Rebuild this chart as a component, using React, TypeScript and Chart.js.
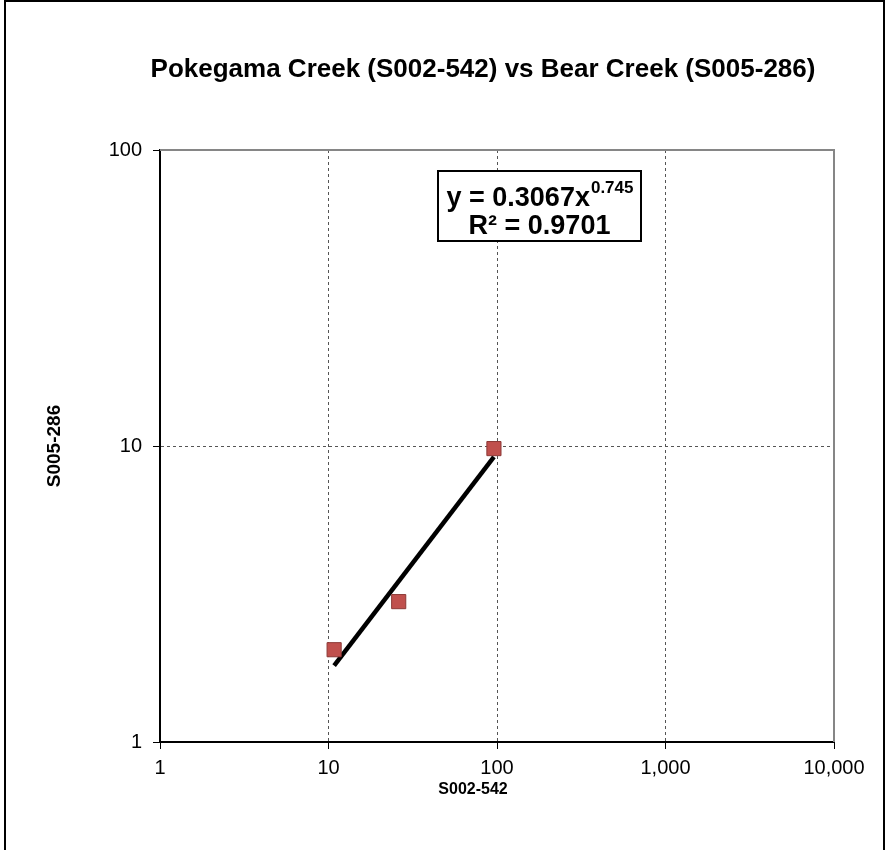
import React, { useEffect, useRef } from 'react';
import { Chart, registerables } from 'chart.js';

Chart.register(...registerables);

// ---- data ----
const xValues = [10.8, 26.1, 95.9];
const yValues = [2.05, 2.98, 9.8];
const trendX = [10.8, 95.9];
const trendY = [1.81, 9.19];
const xTicks = [1, 10, 100, 1000, 10000];
const yTicks = [1, 10, 100];
const chartTitle = 'Pokegama Creek (S002-542) vs Bear Creek (S005-286)';
const xTitle = 'S002-542';
const yTitle = 'S005-286';
const eqBase = 'y = 0.3067x';
const eqExp = '0.745';
const eqR2 = 'R² = 0.9701';

const FONT = '"Liberation Sans", Arial, sans-serif';

const decor = {
  id: 'decor',
  beforeDraw(chart: any) {
    const { ctx, width, height } = chart;
    ctx.save();
    ctx.fillStyle = '#fff';
    ctx.fillRect(0, 0, width, height);
    ctx.restore();
  },
  afterDraw(chart: any) {
    const { ctx, chartArea: a } = chart;
    ctx.save();
    // outer frame
    ctx.strokeStyle = '#000';
    ctx.lineWidth = 2;
    ctx.beginPath();
    ctx.moveTo(5, 850);
    ctx.lineTo(5, 1);
    ctx.lineTo(884, 1);
    ctx.lineTo(884, 850);
    ctx.stroke();
    // plot border top/right
    ctx.strokeStyle = '#868686';
    ctx.lineWidth = 2;
    ctx.beginPath();
    ctx.moveTo(a.left, a.top);
    ctx.lineTo(a.right, a.top);
    ctx.lineTo(a.right, a.bottom);
    ctx.stroke();
    // title
    ctx.fillStyle = '#000';
    ctx.textAlign = 'center';
    ctx.textBaseline = 'middle';
    ctx.font = 'bold 26px ' + FONT;
    ctx.fillText(chartTitle, 483, 70);
    // x title
    ctx.font = 'bold 16px ' + FONT;
    ctx.fillText(xTitle, a.left + 313, a.bottom + 48);
    // equation box
    const bx = a.left + 278;
    const by = a.top + 21;
    const bw = 203;
    const bh = 70;
    ctx.fillStyle = '#fff';
    ctx.fillRect(bx, by, bw, bh);
    ctx.strokeStyle = '#000';
    ctx.lineWidth = 2;
    ctx.strokeRect(bx, by, bw, bh);
    ctx.fillStyle = '#000';
    ctx.textBaseline = 'alphabetic';
    ctx.textAlign = 'left';
    const f1 = 'bold 27px ' + FONT;
    const f2 = 'bold 17px ' + FONT;
    ctx.font = f1;
    const w1 = ctx.measureText(eqBase).width;
    ctx.font = f2;
    const w2 = ctx.measureText(eqExp).width;
    const sx = bx + (bw - w1 - w2) / 2;
    ctx.font = f1;
    ctx.fillText(eqBase, sx, by + 35);
    ctx.font = f2;
    ctx.fillText(eqExp, sx + w1 + 1, by + 22);
    ctx.font = f1;
    ctx.textAlign = 'center';
    ctx.fillText(eqR2, bx + bw / 2, by + 63);
    ctx.restore();
  },
};

export default function App() {
  const ref = useRef<HTMLCanvasElement | null>(null);
  useEffect(() => {
    if (!ref.current) return;
    const gridColor = (edges: number[]) => (c: any) =>
      c.tick && edges.includes(c.tick.value) ? 'rgba(0,0,0,0)' : '#555';
    const chart = new Chart(ref.current, {
      type: 'scatter',
      data: {
        datasets: [
          {
            label: 'data',
            data: xValues.map((x, i) => ({ x, y: yValues[i] })),
            pointStyle: 'rect',
            pointRadius: 10,
            pointBackgroundColor: '#C0504D',
            pointBorderColor: '#8C3836',
            pointBorderWidth: 1,
            showLine: false,
            order: 0,
          },
          {
            label: 'trend',
            data: trendX.map((x, i) => ({ x, y: trendY[i] })),
            showLine: true,
            pointRadius: 0,
            borderColor: '#000',
            borderWidth: 4.5,
            order: 1,
          },
        ],
      },
      plugins: [decor],
      options: {
        responsive: false,
        animation: false,
        events: [],
        layout: { padding: { top: 150, right: 51, left: 0, bottom: 0 } },
        plugins: { legend: { display: false }, tooltip: { enabled: false }, title: { display: false } },
        scales: {
          x: {
            type: 'logarithmic',
            min: 1,
            max: 10000,
            afterBuildTicks: (s: any) => {
              s.ticks = xTicks.map((v) => ({ value: v }));
            },
            afterFit: (s: any) => {
              s.height = 108;
            },
            ticks: {
              callback: (v: any) => Number(v).toLocaleString('en-US'),
              font: { family: FONT, size: 20 },
              color: '#000',
              padding: 7,
              maxRotation: 0,
              autoSkip: false,
            },
            grid: { color: gridColor([1, 10000]), tickColor: '#000', tickLength: 7, lineWidth: 1 },
            border: { display: true, color: '#000', width: 2, dash: [3, 3] },
          },
          y: {
            type: 'logarithmic',
            min: 1,
            max: 100,
            afterBuildTicks: (s: any) => {
              s.ticks = yTicks.map((v) => ({ value: v }));
            },
            afterFit: (s: any) => {
              s.width = 160;
            },
            ticks: {
              callback: (v: any) => Number(v).toLocaleString('en-US'),
              font: { family: FONT, size: 20 },
              color: '#000',
              padding: 11,
              autoSkip: false,
            },
            title: {
              display: true,
              text: yTitle,
              font: { family: FONT, size: 19, weight: 'bold' },
              color: '#000',
              padding: { top: 43, bottom: 0 },
            },
            grid: { color: gridColor([1, 100]), tickColor: '#000', tickLength: 7, lineWidth: 1 },
            border: { display: true, color: '#000', width: 2, dash: [3, 3] },
          },
        },
      },
    } as any);
    return () => chart.destroy();
  }, []);
  return (
    <div style={{ position: 'absolute', left: 0, top: 0, width: 885, height: 850 }}>
      <canvas ref={ref} width={885} height={850} style={{ width: 885, height: 850 }} />
    </div>
  );
}
